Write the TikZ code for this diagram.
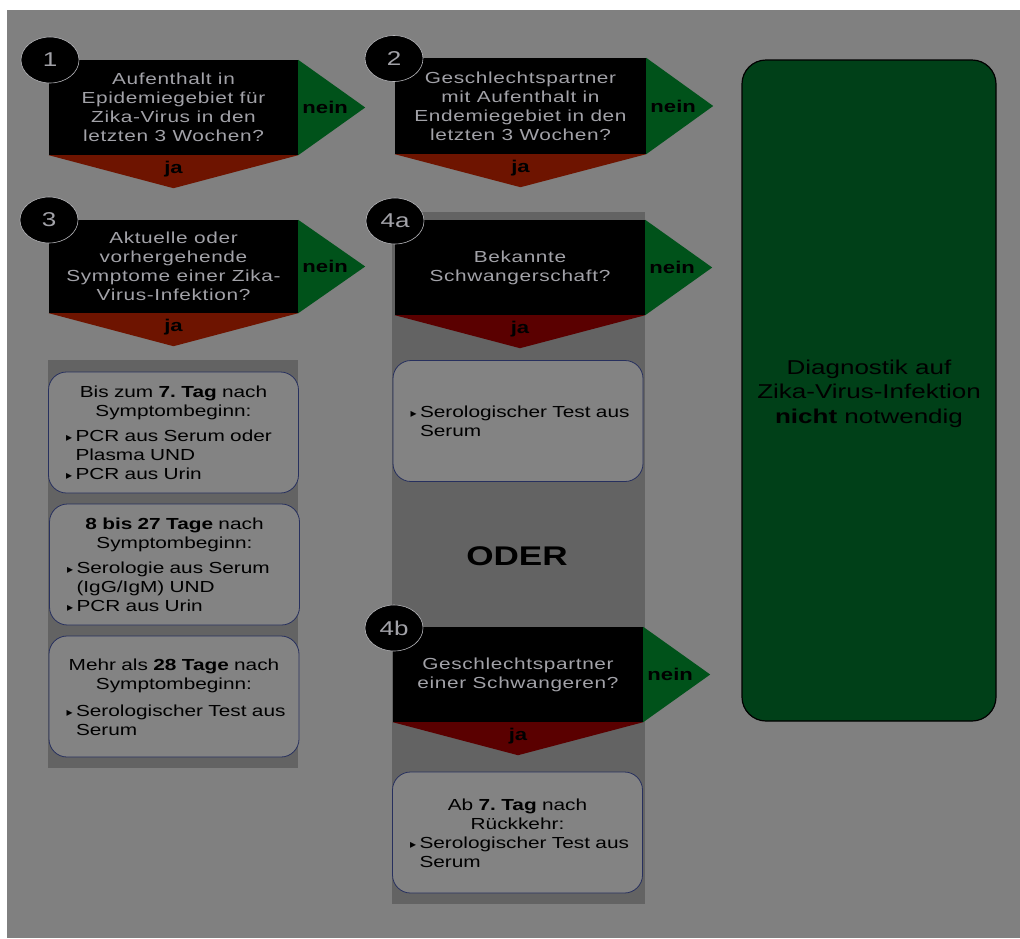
\documentclass[tikz,border=0pt]{standalone}
\usepackage{fontspec}
\setmainfont{Liberation Sans}[FakeStretch=1.3]
\newfontfamily\bulfont{DejaVu Sans}
\usetikzlibrary{shapes.geometric,calc}
\definecolor{bg}{HTML}{808080}
\definecolor{panel}{HTML}{636363}
\definecolor{gtri}{HTML}{00521A}
\definecolor{gbox}{HTML}{004018}
\definecolor{rtri}{HTML}{6E1400}
\definecolor{rtrid}{HTML}{5A0000}
\definecolor{qtext}{HTML}{A2A2A8}
\definecolor{rbfill}{HTML}{838383}
\definecolor{rbline}{HTML}{27305E}
\newcommand{\bul}{\makebox[11pt][l]{\hspace*{1.5pt}\bulfont\fontsize{12}{12}\selectfont ▸}}
% bullet item with one or two lines
\newcommand{\bitem}[1]{\par\noindent\bul\mbox{#1}\par}
\newcommand{\bitemtwo}[2]{\par\noindent\bul\mbox{#1}\par\noindent\hspace*{11pt}\mbox{#2}\par}
\newcommand{\hdr}[2]{\par\noindent\makebox[\linewidth][c]{#1}\par\noindent\makebox[\linewidth][c]{#2}\par}
\newcommand{\boxend}{\par\kern6pt\hrule height0pt width0pt}
\tikzset{
  qbox/.style={fill=black, minimum width=249pt, minimum height=95pt, inner sep=0pt,
    align=center, text=qtext, font=\fontsize{16}{19}\selectfont\addfontfeature{LetterSpace=4}},
  rbox/.style={draw=rbline, line width=0.8pt, fill=rbfill, rounded corners=18pt,
    minimum width=250pt, minimum height=121pt, text width=218pt, inner sep=0pt,
    font=\fontsize{16}{19}\selectfont\frenchspacing},
  yesno/.style={font=\bfseries\fontsize{17}{17}\selectfont, text=black, inner sep=0pt},
  circ/.style={ellipse, fill=black, draw=qtext!80, line width=0.6pt, minimum width=58pt,
    minimum height=46pt, inner sep=0pt, text=qtext, font=\fontsize{20}{20}\selectfont},
  panelbox/.style={fill=panel}
}
\begin{document}
\begin{tikzpicture}[x=1pt,y=-1pt]
\useasboundingbox (0,0) rectangle (1020,938);
\fill[bg] (7,10) rectangle (1020,938);
% panels
\fill[panelbox] (48,360) rectangle (298,768);
\fill[panelbox] (392,212) rectangle (645,904);
% question boxes
\node[qbox] (q1) at (173.5,107.5) {Aufenthalt in\\Epidemiegebiet für\\Zika-Virus in den\\letzten 3 Wochen?};
\node[qbox, minimum width=251pt, minimum height=96pt] (q2) at (520.5,106) {Geschlechtspartner\\mit Aufenthalt in\\Endemiegebiet in den\\letzten 3 Wochen?};
\node[qbox, minimum height=93pt] (q3) at (173.5,266.5) {Aktuelle oder\\vorhergehende\\Symptome einer Zika-\\Virus-Infektion?};
\node[qbox, minimum width=250pt] (q4a) at (520,267.5) {Bekannte\\Schwangerschaft?};
\node[qbox, minimum width=250pt] (q4b) at (518,674.5) {Geschlechtspartner\\einer Schwangeren?};
\foreach \q/\c in {q1/rtri, q2/rtri, q3/rtri, q4a/rtrid, q4b/rtrid} {
  \fill[gtri] (\q.north east) -- ($(\q.east)+(67,0)$) -- (\q.south east) -- cycle;
  \fill[\c] (\q.south west) -- ($(\q.south)+(0,33)$) -- (\q.south east) -- cycle;
  \node[yesno] (\q-nein) at ($(\q.east)+(27,0)$) {nein};
  \node[yesno] (\q-ja) at ($(\q.south)+(0,14)$) {ja};
}
% result box
\node[draw=black, line width=1.2pt, fill=gbox, rounded corners=24pt, minimum width=254pt,
  minimum height=661pt] (res) at (869,390.5) {};
\node[align=center, font=\fontsize{20}{24.5}\selectfont, inner sep=0pt] (res-text)
  at ($(res.center)+(0,3)$) {Diagnostik auf\\Zika-Virus-Infektion\\\textbf{nicht} notwendig};
% test boxes
\node[rbox] (rA) at (173.5,432.5) {%
  \hdr{Bis zum \textbf{7. Tag} nach}{Symptombeginn:}\vspace{6pt}%
  \bitemtwo{PCR aus Serum oder}{Plasma UND}%
  \bitem{PCR aus Urin}\boxend};
\node[rbox] (rB) at (174.5,564.5) {%
  \hdr{\textbf{8 bis 27 Tage} nach}{Symptombeginn:}\vspace{6pt}%
  \bitemtwo{Serologie aus Serum}{(IgG/IgM) UND}%
  \bitem{PCR aus Urin}\boxend};
\node[rbox] (rC) at (174,696.5) {%
  \hdr{Mehr als \textbf{28 Tage} nach}{Symptombeginn:}\vspace{8pt}%
  \bitemtwo{Serologischer Test aus}{Serum}\boxend};
\node[rbox] (r4a) at (518,421) {%
  \bitemtwo{Serologischer Test aus}{Serum}\boxend};
\node[rbox] (r4b) at (517.5,832.5) {%
  \hdr{Ab \textbf{7. Tag} nach}{Rückkehr:}%
  \bitemtwo{Serologischer Test aus}{Serum}\boxend};
\node[font=\bfseries\fontsize{27}{27}\selectfont, inner sep=0pt] (oder) at (517,556) {ODER};
% number circles
\node[circ] (c1) at (50,60) {1};
\node[circ] (c2) at (394,58.5) {2};
\node[circ] (c3) at (49,220) {3};
\node[circ] (c4a) at (395,221) {4a};
\node[circ] (c4b) at (394,628) {4b};
\end{tikzpicture}
\end{document}
